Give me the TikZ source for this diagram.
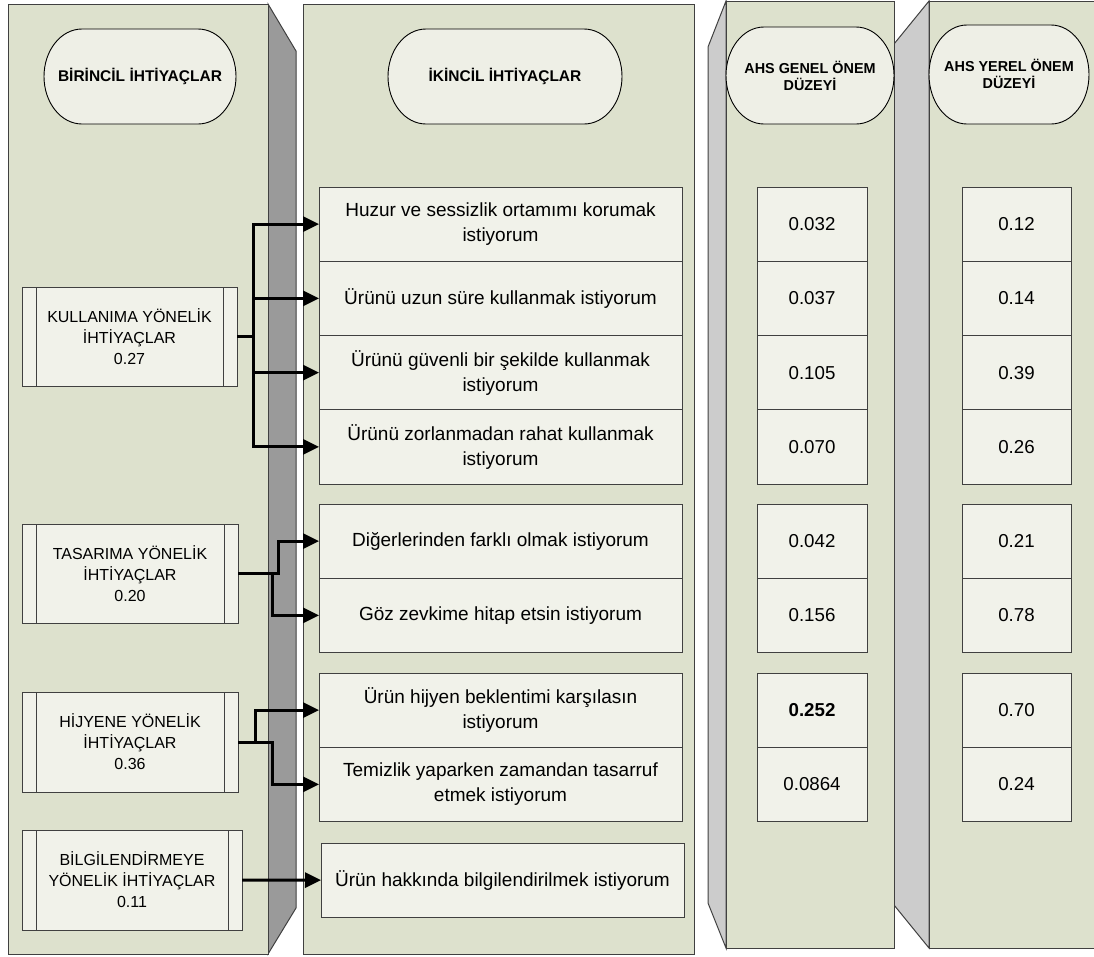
\documentclass[tikz,border=0pt]{standalone}
\usepackage{fontspec}
\setmainfont{Liberation Sans}
\usetikzlibrary{positioning, arrows.meta}

\definecolor{panelfill}{RGB}{221,225,205}
\definecolor{boxfill}{RGB}{241,242,234}
\definecolor{pillfill}{RGB}{238,239,230}
\definecolor{darkside}{RGB}{154,154,154}
\definecolor{lightside}{RGB}{204,204,204}
\definecolor{edge}{RGB}{64,64,64}

\tikzset{
        >={Triangle[length=16pt, width=15pt]}, % solid arrow heads
        node distance=0pt, % stacked boxes touch each other
        panel/.style={draw=edge, fill=panelfill, line width=1pt}, % column background
        pillline/.style={draw=black, fill=pillfill, line width=0.9pt}, % rounded column titles
        head/.style={font=\bfseries\fontsize{15.5}{18}\selectfont, align=center},
        smallhead/.style={font=\bfseries\fontsize{14.4}{17}\selectfont, align=center},
        primary/.style={draw=edge, fill=boxfill, line width=1pt, minimum width=216pt,
            minimum height=99pt, inner sep=0pt, outer sep=0pt, align=center,
            font=\fontsize{16}{21}\selectfont},
        need/.style={draw=edge, fill=boxfill, line width=1pt, minimum width=363pt,
            minimum height=74.25pt, inner sep=0pt, outer sep=0pt, align=center,
            font=\fontsize{19}{25}\selectfont},
        weight/.style={need, minimum width=110pt, font=\fontsize{18.7}{22}\selectfont},
        link/.style={->, line width=3pt}, % thick black connectors
    }

% rounded title: centre x, centre y, half width, half height
\newcommand{\pill}[4]{%
    \draw[pillline] (#1-#3+38,#2-#4) -- (#1+#3-38,#2-#4)
        arc[start angle=-90, end angle=90, x radius=38, y radius=#4]
        -- (#1-#3+38,#2+#4)
        arc[start angle=90, end angle=270, x radius=38, y radius=#4] -- cycle;}

% the two inner bars of a process box
\newcommand{\bars}[1]{%
    \draw[edge, line width=1pt] ([xshift=14pt]#1.north west) -- ([xshift=14pt]#1.south west)
        ([xshift=-14pt]#1.north east) -- ([xshift=-14pt]#1.south east);}

\begin{document}
\begin{tikzpicture}[x=1pt, y=-1pt]
    \useasboundingbox (0,0) rectangle (1094,956);

    % columns
    \draw[panel, fill=darkside] (268,4) -- (296,51) -- (296,908) -- (268,954) -- cycle;
    \draw[panel] (8,4) rectangle (268,954);
    \draw[panel] (303,4) rectangle (694,954);
    \draw[panel, fill=lightside] (929,1) -- (894,44) -- (894,905) -- (929,948) -- cycle;
    \draw[panel, fill=lightside] (726,1) -- (708,47) -- (708,903) -- (726,948) -- cycle;
    \draw[panel] (726,1) rectangle (894,948);
    \fill[panelfill] (929,1) rectangle (1094,948);
    \draw[edge, line width=1pt] (1094,1) -- (929,1) -- (929,948) -- (1094,948);

    % titles
    \pill{140}{76.5}{96}{47.5}
    \node[head] (h1) at (140,76) {BİRİNCİL İHTİYAÇLAR};
    \pill{505}{76.5}{117}{47.5}
    \node[head] (h2) at (505,76) {İKİNCİL İHTİYAÇLAR};
    \pill{810}{75.5}{84}{48.5}
    \node[smallhead] (h3) at (810,76) {AHS GENEL ÖNEM\\DÜZEYİ};
    \pill{1009}{74.5}{80}{49.5}
    \node[smallhead] (h4) at (1009,74) {AHS YEREL ÖNEM\\DÜZEYİ};

    % primary needs
    \node[primary, anchor=north west, minimum width=215pt] (p1) at (22,287) {KULLANIMA YÖNELİK\\İHTİYAÇLAR\\0.27};
    \node[primary, anchor=north west] (p2) at (22,524) {TASARIMA YÖNELİK\\İHTİYAÇLAR\\0.20};
    \node[primary, anchor=north west, minimum height=100pt] (p3) at (22,692) {HİJYENE YÖNELİK\\İHTİYAÇLAR\\0.36};
    \node[primary, anchor=north west, minimum width=220pt, minimum height=100pt] (p4) at (22,830) {BİLGİLENDİRMEYE\\YÖNELİK İHTİYAÇLAR\\0.11};
    \bars{p1} \bars{p2} \bars{p3} \bars{p4}

    % secondary needs
    \node[need, anchor=north west] (s1) at (319,187) {Huzur ve sessizlik ortamımı korumak\\istiyorum};
    \node[need, below=of s1] (s2) {Ürünü uzun süre kullanmak istiyorum};
    \node[need, below=of s2] (s3) {Ürünü güvenli bir şekilde kullanmak\\istiyorum};
    \node[need, below=of s3] (s4) {Ürünü zorlanmadan rahat kullanmak\\istiyorum};
    \node[need, anchor=north west] (s5) at (319,504) {Diğerlerinden farklı olmak istiyorum};
    \node[need, below=of s5] (s6) {Göz zevkime hitap etsin istiyorum};
    \node[need, anchor=north west] (s7) at (319,673) {Ürün hijyen beklentimi karşılasın\\istiyorum};
    \node[need, below=of s7] (s8) {Temizlik yaparken zamandan tasarruf\\etmek istiyorum};
    \node[need, anchor=north west] (s9) at (321,843) {Ürün hakkında bilgilendirilmek istiyorum};

    % global weights
    \node[weight, right=75pt of s1] (g1) {0.032};
    \node[weight, below=of g1] (g2) {0.037};
    \node[weight, below=of g2] (g3) {0.105};
    \node[weight, below=of g3] (g4) {0.070};
    \node[weight, right=75pt of s5] (g5) {0.042};
    \node[weight, below=of g5] (g6) {0.156};
    \node[weight, right=75pt of s7] (g7) {\textbf{0.252}};
    \node[weight, below=of g7] (g8) {0.0864};

    % local weights
    \node[weight, minimum width=109pt, right=95pt of g1] (y1) {0.12};
    \node[weight, minimum width=109pt, below=of y1] (y2) {0.14};
    \node[weight, minimum width=109pt, below=of y2] (y3) {0.39};
    \node[weight, minimum width=109pt, below=of y3] (y4) {0.26};
    \node[weight, minimum width=109pt, right=95pt of g5] (y5) {0.21};
    \node[weight, minimum width=109pt, below=of y5] (y6) {0.78};
    \node[weight, minimum width=109pt, right=95pt of g7] (y7) {0.70};
    \node[weight, minimum width=109pt, below=of y7] (y8) {0.24};

    % connectors
    \draw[link] (p1.east) -- ++(16,0) |- (s1.west);
    \draw[link] (p1.east) -- ++(16,0) |- (s2.west);
    \draw[link] (p1.east) -- ++(16,0) |- (s3.west);
    \draw[link] (p1.east) -- ++(16,0) |- (s4.west);
    \draw[link] (p2.east) -- ++(40,0) |- (s5.west);
    \draw[link] (p2.east) -- ++(34,0) |- (s6.west);
    \draw[link] (p3.east) -- ++(17,0) |- (s7.west);
    \draw[link] (p3.east) -- ++(34,0) |- (s8.west);
    \draw[link] (p4.east) -- (s9.west);
\end{tikzpicture}
\end{document}
